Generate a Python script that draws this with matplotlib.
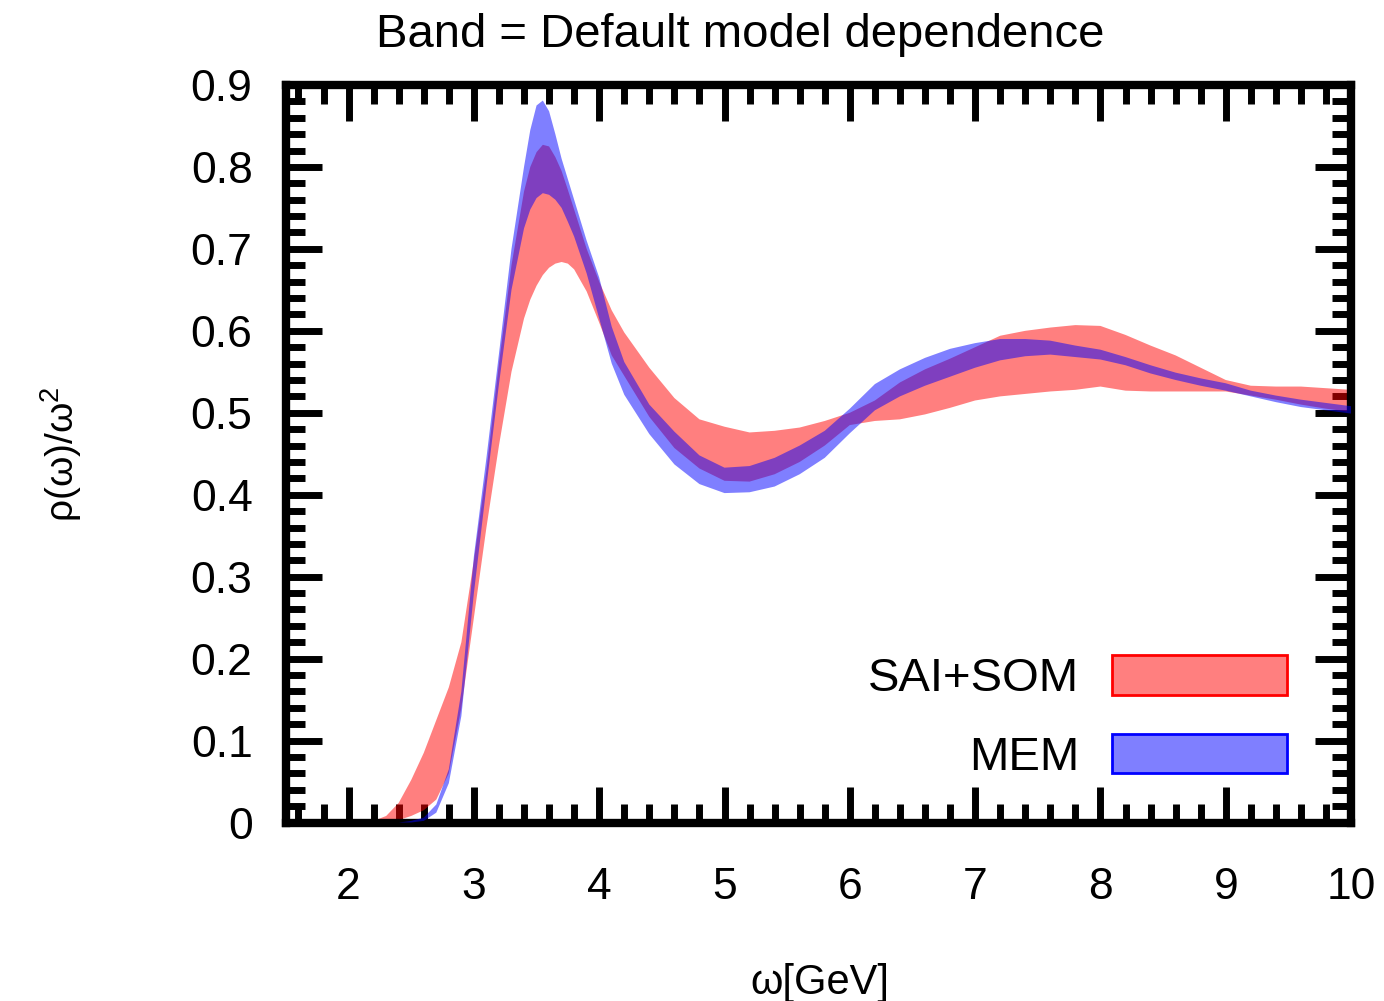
import matplotlib
matplotlib.use('Agg')
import matplotlib.pyplot as plt
from matplotlib.patches import Patch
from matplotlib.ticker import MultipleLocator

plt.rcParams['font.family'] = ['Liberation Sans', 'DejaVu Sans']
plt.rcParams['mathtext.fontset'] = 'custom'
plt.rcParams['mathtext.rm'] = 'Liberation Sans'

# omega [GeV]
omega = [1.5, 2.0, 2.2, 2.3, 2.4, 2.5, 2.6, 2.7, 2.8, 2.9,
         3.0, 3.1, 3.2, 3.3, 3.4, 3.45, 3.5, 3.55, 3.6, 3.65,
         3.7, 3.75, 3.8, 3.9, 4.0, 4.1, 4.2, 4.4, 4.6, 4.8,
         5.0, 5.2, 5.4, 5.6, 5.8, 6.0, 6.2, 6.4, 6.6, 6.8,
         7.0, 7.2, 7.4, 7.6, 7.8, 8.0, 8.2, 8.4, 8.6, 8.8,
         9.0, 9.2, 9.4, 9.6, 9.8, 10.0]

# SAI+SOM band
som_lo = [0, 0, 0, 0, 0.003, 0.008, 0.015, 0.028, 0.06, 0.14,
          0.25, 0.36, 0.46, 0.55, 0.615, 0.638, 0.655, 0.668, 0.677, 0.682,
          0.684, 0.682, 0.675, 0.648, 0.61, 0.57, 0.545, 0.495, 0.457, 0.432,
          0.417, 0.416, 0.425, 0.44, 0.46, 0.485, 0.49, 0.492, 0.498, 0.506,
          0.515, 0.52, 0.523, 0.526, 0.528, 0.532, 0.527, 0.526, 0.526, 0.526,
          0.526, 0.521, 0.516, 0.51, 0.505, 0.501]
som_hi = [0, 0, 0.002, 0.008, 0.024, 0.052, 0.085, 0.125, 0.165, 0.22,
          0.32, 0.43, 0.56, 0.68, 0.77, 0.80, 0.818, 0.827, 0.825, 0.812,
          0.795, 0.772, 0.748, 0.70, 0.66, 0.625, 0.598, 0.555, 0.518, 0.492,
          0.483, 0.476, 0.478, 0.482, 0.49, 0.50, 0.515, 0.537, 0.553, 0.566,
          0.58, 0.594, 0.60, 0.604, 0.607, 0.606, 0.595, 0.582, 0.57, 0.555,
          0.54, 0.533, 0.532, 0.532, 0.53, 0.528]

# MEM band
mem_lo = [0, 0, 0, 0, 0, 0, 0.002, 0.012, 0.048, 0.13,
          0.28, 0.41, 0.535, 0.65, 0.725, 0.748, 0.762, 0.768, 0.766, 0.76,
          0.75, 0.733, 0.715, 0.67, 0.615, 0.56, 0.522, 0.474, 0.437, 0.413,
          0.402, 0.403, 0.41, 0.425, 0.445, 0.475, 0.503, 0.52, 0.533, 0.544,
          0.555, 0.564, 0.569, 0.571, 0.568, 0.565, 0.558, 0.548, 0.54, 0.533,
          0.527, 0.52, 0.513, 0.507, 0.503, 0.499]
mem_hi = [0, 0, 0, 0, 0, 0.002, 0.006, 0.022, 0.065, 0.16,
          0.325, 0.445, 0.572, 0.70, 0.80, 0.845, 0.875, 0.881, 0.868, 0.84,
          0.81, 0.785, 0.76, 0.71, 0.665, 0.605, 0.562, 0.51, 0.477, 0.448,
          0.433, 0.435, 0.445, 0.46, 0.478, 0.505, 0.535, 0.553, 0.567, 0.578,
          0.585, 0.59, 0.59, 0.588, 0.582, 0.577, 0.568, 0.558, 0.549, 0.542,
          0.536, 0.527, 0.521, 0.516, 0.512, 0.508]

y_ticks = [0, 0.1, 0.2, 0.3, 0.4, 0.5, 0.6, 0.7, 0.8, 0.9]
y_ticklabels = ['0', '0.1', '0.2', '0.3', '0.4', '0.5', '0.6', '0.7', '0.8', '0.9']

red_face = (1.0, 0.0, 0.0, 0.5)
blue_face = (0.0, 0.0, 1.0, 0.5)

fig = plt.figure(figsize=(13.84, 10.01), dpi=100)
ax = fig.add_axes([0.2066, 0.1783, 0.7696, 0.7368])

ax.fill_between(omega, som_lo, som_hi, facecolor=red_face, edgecolor='none', zorder=2)
ax.fill_between(omega, mem_lo, mem_hi, facecolor=blue_face, edgecolor='none', zorder=3)

ax.set_xlim(1.5, 10)
ax.set_ylim(0, 0.9)
ax.xaxis.set_major_locator(MultipleLocator(1))
ax.xaxis.set_minor_locator(MultipleLocator(0.2))
ax.set_yticks(y_ticks)
ax.set_yticklabels(y_ticklabels)
ax.yaxis.set_minor_locator(MultipleLocator(0.02))

ax.tick_params(which='both', direction='in', top=True, right=True, width=5, color='black')
ax.tick_params(which='major', length=26, labelsize=32)
ax.tick_params(axis='y', which='major', pad=24)
ax.tick_params(axis='x', which='major', pad=32)
ax.tick_params(which='minor', length=13.5)
for sp in ax.spines.values():
    sp.set_linewidth(6)

ax.set_xlabel('ω[GeV]', fontsize=30)
ax.xaxis.set_label_coords(0.501, -0.19)
ax.set_ylabel('ρ(ω)/ω$^2$', fontsize=28)
ax.yaxis.set_label_coords(-0.19, 0.5)

fig.text(0.535, 0.953, 'Band = Default model dependence', fontsize=34,
         ha='center', va='baseline')

handles = [Patch(facecolor=red_face, edgecolor='red', linewidth=2, label='SAI+SOM'),
           Patch(facecolor=blue_face, edgecolor='blue', linewidth=2, label='MEM')]
ax.legend(handles=handles, loc='lower right', bbox_to_anchor=(0.94, 0.058),
          frameon=False, markerfirst=False, fontsize=34, handlelength=3.7,
          handleheight=0.92, handletextpad=0.7, labelspacing=0.68, borderpad=0,
          borderaxespad=0)

fig.savefig('out.png', dpi=100)
